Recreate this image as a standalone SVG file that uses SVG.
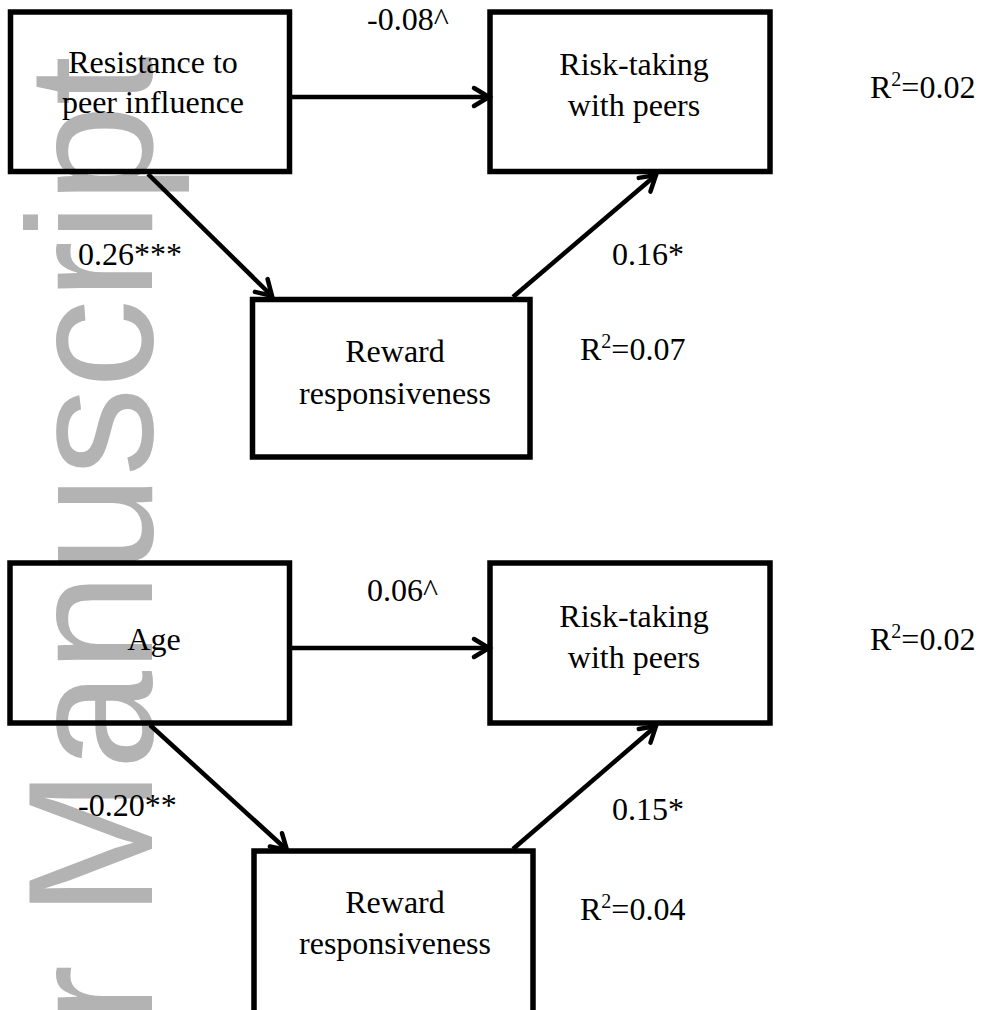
<svg xmlns="http://www.w3.org/2000/svg" width="984" height="1010" viewBox="0 0 984 1010">
<defs>
<style>
.box{fill:none;stroke:#000;stroke-width:5.5}
.t{font-family:'Liberation Serif','Tinos','Times New Roman','DejaVu Serif','Noto Serif',serif;font-size:32px;fill:#000}
.c{text-anchor:middle}
.edge{stroke:#000;stroke-width:4.5;fill:none}
.wm{font-family:'Liberation Sans',Arial,sans-serif;font-size:178px;fill:#b3b3b3}
</style>
<marker id="arr" markerUnits="userSpaceOnUse" markerWidth="40" markerHeight="40" refX="0" refY="0" viewBox="-20 -20 40 40" orient="auto" overflow="visible">
<path d="M-15,-9 L0,0 L-15,9" fill="none" stroke="#000" stroke-width="4.5" stroke-linecap="round" stroke-linejoin="miter"/>
</marker>
</defs>
<rect width="984" height="1010" fill="#fff"/>
<g id="watermark">
<text class="wm" transform="rotate(-90)" x="-1024" y="152" textLength="968" lengthAdjust="spacing">r Manuscript</text>
</g>
<g id="connectors">
<line class="edge" x1="292" y1="97" x2="489" y2="97" marker-end="url(#arr)"/>
<line class="edge" x1="148" y1="174" x2="272" y2="296" marker-end="url(#arr)"/>
<line class="edge" x1="513" y1="297" x2="656" y2="175" marker-end="url(#arr)"/>
<line class="edge" x1="292" y1="648" x2="489" y2="648" marker-end="url(#arr)"/>
<line class="edge" x1="150" y1="725" x2="287" y2="850" marker-end="url(#arr)"/>
<line class="edge" x1="513" y1="849" x2="656" y2="726" marker-end="url(#arr)"/>
</g>
<g id="labels" font-family="Liberation Serif, Times New Roman, serif">
<text class="t" x="367" y="30">-0.08^</text>
<text class="t" x="78" y="265">0.26***</text>
<text class="t" x="612" y="265">0.16*</text>
<text class="t" x="870" y="98">R<tspan font-size="20" dy="-12">2</tspan><tspan dy="12">=0.02</tspan></text>
<text class="t" x="580" y="360">R<tspan font-size="20" dy="-12">2</tspan><tspan dy="12">=0.07</tspan></text>
<text class="t" x="367" y="601">0.06^</text>
<text class="t" x="78" y="816">-0.20**</text>
<text class="t" x="612" y="820">0.15*</text>
<text class="t" x="870" y="650">R<tspan font-size="20" dy="-12">2</tspan><tspan dy="12">=0.02</tspan></text>
<text class="t" x="580" y="920">R<tspan font-size="20" dy="-12">2</tspan><tspan dy="12">=0.04</tspan></text>
</g>
<g id="n-resistance">
<rect class="box" x="10.5" y="12" width="279" height="159.5"/>
<text class="t c" x="153" y="73">Resistance to</text>
<text class="t c" x="153" y="113">peer influence</text>
</g>
<g id="n-risk1">
<rect class="box" x="490" y="12" width="280" height="159.5"/>
<text class="t c" x="634" y="75">Risk-taking</text>
<text class="t c" x="634" y="116">with peers</text>
</g>
<g id="n-reward1">
<rect class="box" x="252.5" y="299.5" width="277.5" height="157.5"/>
<text class="t c" x="395" y="362">Reward</text>
<text class="t c" x="395" y="404">responsiveness</text>
</g>
<g id="n-age">
<rect class="box" x="10" y="563" width="279.5" height="160"/>
<text class="t c" x="154" y="650">Age</text>
</g>
<g id="n-risk2">
<rect class="box" x="490" y="563" width="280" height="160"/>
<text class="t c" x="634" y="627">Risk-taking</text>
<text class="t c" x="634" y="668">with peers</text>
</g>
<g id="n-reward2">
<rect class="box" x="254" y="851" width="279" height="170"/>
<text class="t c" x="395" y="913">Reward</text>
<text class="t c" x="395" y="954">responsiveness</text>
</g>
</svg>
